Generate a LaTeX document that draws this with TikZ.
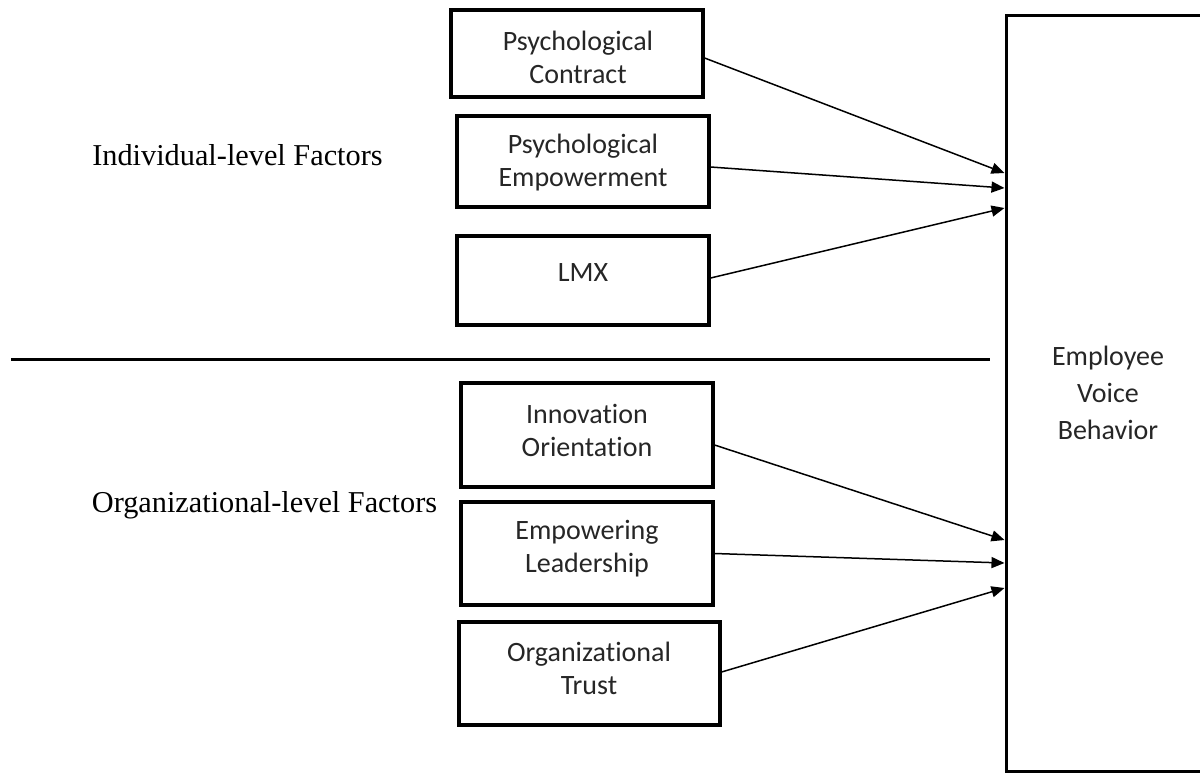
\documentclass[tikz,border=0pt]{standalone}
\usepackage{fontspec}
\setmainfont{Liberation Serif}
\newfontfamily\boxfont[Ligatures={NoCommon}]{Carlito}
\usetikzlibrary{arrows.meta}
\begin{document}
\begin{tikzpicture}[x=1pt,y=-1pt,
  factorbox/.style={draw=black, line width=3.2pt, minimum width=252pt, inner sep=0pt},
  boxtxt/.style={font=\boxfont\fontsize{28}{33}\selectfont, align=center, inner sep=0pt, text=black!85},
  grouplbl/.style={font=\fontsize{30.3}{36}\selectfont, inner sep=0pt},
  arr/.style={line width=1.5pt, -{Triangle[length=13pt,width=11pt]}}]
\useasboundingbox (0,0) rectangle (1200,772);
\fill[white] (0,0) rectangle (1200,772);

% outcome box (right side runs off the page)
\node[draw=black, line width=3pt, minimum width=204pt, minimum height=756pt, inner sep=0pt,
      font=\boxfont\fontsize{28}{37}\selectfont, align=center, text=black!85]
      (evb) at (1108,393) {Employee\\Voice\\Behavior};

% factor boxes
\node[factorbox, minimum height=87pt]  (b1) at (577,53.5) {};
\node[factorbox, minimum height=91pt]  (b2) at (583,161.5) {};
\node[factorbox, minimum height=89pt]  (b3) at (583,280.5) {};
\node[factorbox, minimum height=104pt] (b4) at (587,435) {};
\node[factorbox, minimum height=103pt] (b5) at (587,553.5) {};
\node[factorbox, minimum width=261pt, minimum height=103pt] (b6) at (589.5,673.5) {};

% box texts
\node[boxtxt] (t1) at (578,57) {Psychological\\Contract};
\node[boxtxt] (t2) at (583,163) {Psychological\\Empowerment};
\node[boxtxt] (t3) at (583,273) {LMX};
\node[boxtxt] (t4) at (587,430) {Innovation\\Orientation};
\node[boxtxt] (t5) at (587,549) {Empowering\\Leadership};
\node[boxtxt] (t6) at (589,668) {Organizational\\Trust};

% group labels
\node[grouplbl] (g1) at (237.5,155) {Individual-level Factors};
\node[grouplbl] (g2) at (264.5,505) {Organizational-level Factors};

% separator
\coordinate (s1) at (11,359);
\coordinate (s2) at (990,359);
\draw[line width=3pt] (s1) -- (s2);

% arrows
\draw[arr] ([yshift=-4.5pt]b1.east) -- ([yshift=220pt]evb.west);
\draw[arr] ([yshift=-5.5pt]b2.east) -- ([yshift=205pt]evb.west);
\draw[arr] ([yshift=2.5pt]b3.east)  -- ([yshift=185pt]evb.west);
\draw[arr] ([yshift=-10pt]b4.east)  -- ([yshift=-147pt]evb.west);
\draw[arr] (b5.east)                -- ([yshift=-170pt]evb.west);
\draw[arr] ([yshift=1.5pt]b6.east)  -- ([yshift=-195pt]evb.west);
\end{tikzpicture}
\end{document}
